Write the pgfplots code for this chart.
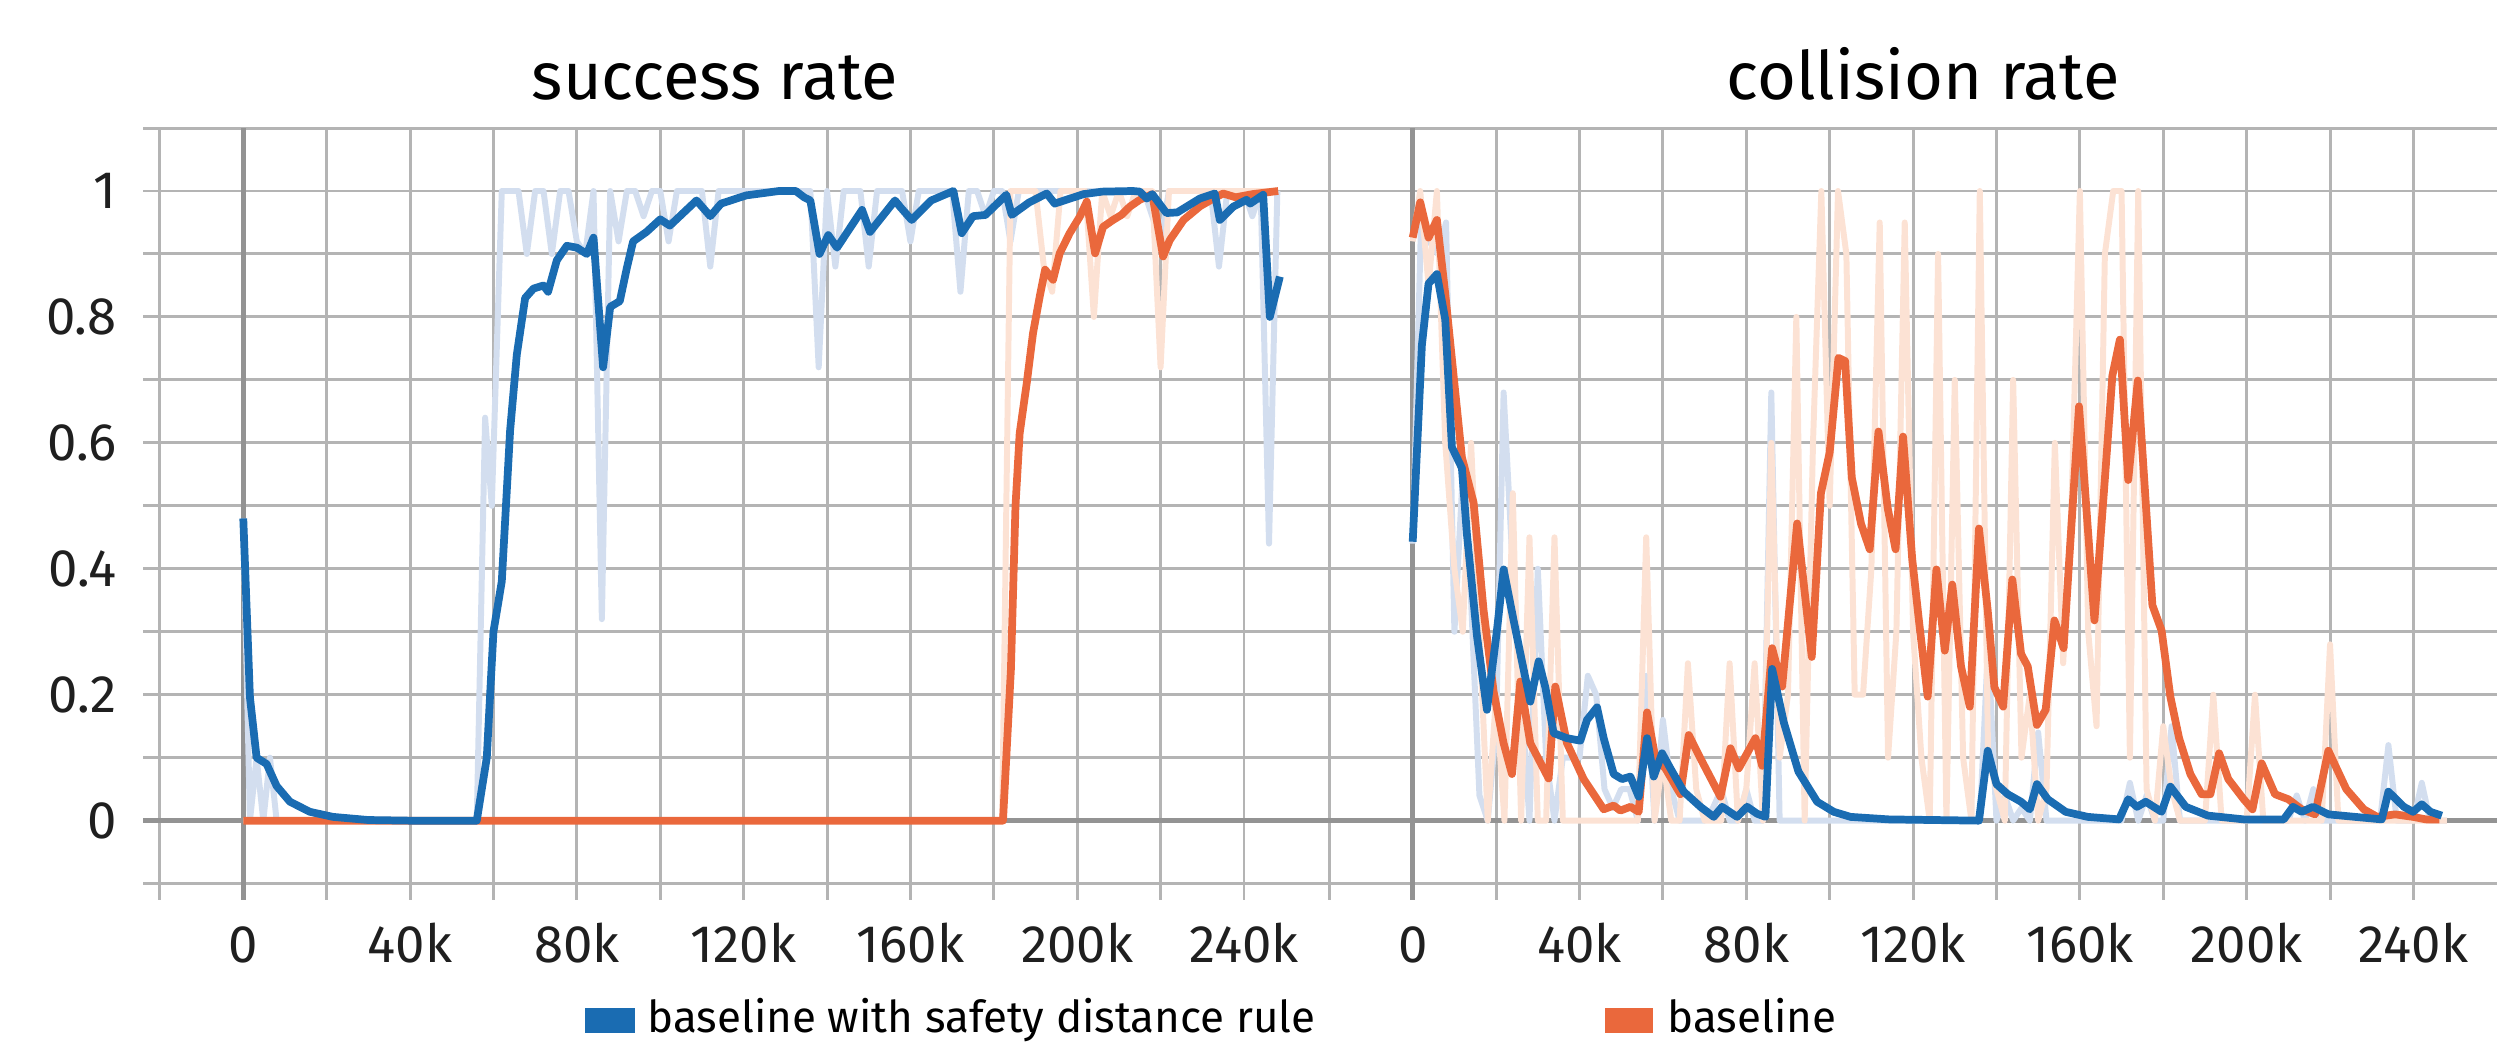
\documentclass[border=0pt]{standalone}
\usepackage{fontspec}
\setmainfont{Fira Sans}
\usepackage{pgfplots}
\pgfplotsset{compat=1.18}
\definecolor{cblue}{HTML}{1A6CB2}
\definecolor{corange}{HTML}{EA683C}
\definecolor{fblue}{HTML}{D3DEEF}
\definecolor{forange}{HTML}{FCE2D4}
\definecolor{gridc}{HTML}{B4B4B4}
\definecolor{zeroc}{HTML}{939393}
\pgfplotsset{
  tbstyle/.style={
    scale only axis, width=11.80cm, height=7.7195cm,
    ymin=-0.126, ymax=1.1,
    xtick={0,40000,80000,120000,160000,200000,240000},
    xticklabels={0,40k,80k,120k,160k,200k,240k},
    minor xtick={-20000,20000,60000,100000,140000,180000,220000},
    ytick={0,0.2,0.4,0.6,0.8,1},
    minor ytick={-0.1,0.1,0.3,0.5,0.7,0.9,1.1},
    grid=both,
    major grid style={draw=gridc, line width=0.85pt},
    minor grid style={draw=gridc, line width=0.85pt},
    axis line style={draw=none},
    major tick length=0pt, minor tick length=0pt,
    tick align=inside,
    scaled ticks=false,
    /pgf/number format/assume math mode=true,
    xticklabel style={font=\fontsize{15}{17}\selectfont, text=black!88, anchor=base, yshift=-0.63cm},
    yticklabel style={font=\fontsize{15}{17}\selectfont, text=black!88, anchor=east, inner sep=0pt, xshift=-0.26cm},
    extra x ticks={0}, extra x tick labels={},
    extra x tick style={major grid style={draw=zeroc, line width=1.3pt}},
    extra y ticks={0}, extra y tick labels={},
    extra y tick style={major grid style={draw=zeroc, line width=1.3pt}},
    every axis plot/.append style={line join=round},
  },
  raw/.style={line width=1.7pt},
  smooth/.style={line width=2.2pt},
}
\begin{document}
\begin{tikzpicture}
\path[use as bounding box] (0,0) rectangle (25,10.48);
% ---------------- success rate ----------------
\begin{axis}[tbstyle, at={(1.432cm,1.48cm)}, anchor=south west,
  xmin=-24000, xmax=259000,
  yticklabels={0,0.2,0.4,0.6,0.8,1}]
% raw blue
\addplot[raw, fblue] coordinates {
(0,0.48)(1600,0)(3200,0.1)(4800,0)(6400,0.1)(8000,0)(56000,0)(58000,0.64)(59600,0.5)(62000,1)(64000,1)(66000,1)(68000,0.9)(70000,1)(72000,1)(74000,0.9)(76000,1)(78000,1)(80000,0.92)(82000,0.9)(84000,1)(86000,0.32)(88000,1)(90000,0.92)(92000,1)(94000,1)(96000,0.96)(98000,1)(100000,1)(102000,0.92)(104000,1)(106000,1)(108000,1)(110000,1)(112000,0.88)(114000,1)(116000,1)(136000,1)(138000,0.72)(140000,1)(142000,0.88)(144000,1)(146000,1)(148000,1)(150000,0.88)(152000,1)(156000,1)(158000,1)(160000,0.92)(162000,1)(170000,1)(172000,0.84)(174000,1)(176000,1)(178000,0.96)(180000,1)(182000,1)(184000,0.92)(186000,1)(216000,1)(218000,0.96)(220000,0.92)(222000,1)(232000,1)(234000,0.88)(236000,1)(240000,1)(242000,0.96)(244000,1)(246000,0.44)(248000,1)
};
% raw orange
\addplot[raw, forange] coordinates {
(0,0)(182000,0)(184000,1)(186000,1)(188000,1)(190000,1)(192000,0.88)(194000,0.84)(196000,1)(198000,1)(200000,1)(202000,1)(204000,0.8)(206000,1)(208000,0.96)(210000,1)(212000,0.96)(214000,1)(216000,1)(218000,1)(220000,0.72)(222000,1)(224000,1)(248000,1)
};
% smoothed orange
\addplot[smooth, corange] coordinates {
(0,0)(182200,0)(184100,0.24)(185200,0.50)(186200,0.615)(187900,0.695)(189400,0.774)(191000,0.832)(192300,0.875)(194200,0.859)(195800,0.901)(198200,0.933)(200600,0.959)(202300,0.983)(204300,0.901)(206200,0.943)(208600,0.954)(210600,0.962)(212600,0.975)(215000,0.986)(218000,0.995)(220600,0.896)(222200,0.922)(225500,0.954)(229500,0.976)(233500,0.991)(235000,0.996)(238000,0.99)(242000,0.995)(248200,1.0)
};
% smoothed blue
\addplot[smooth, cblue] coordinates {
(0,0.48)(1600,0.196)(3200,0.10)(5600,0.09)(8000,0.055)(11200,0.03)(16000,0.014)(21500,0.006)(30000,0.001)(40000,0)(56000,0)(58400,0.10)(60000,0.30)(62000,0.38)(64000,0.62)(65600,0.74)(67600,0.83)(69600,0.845)(72000,0.85)(73100,0.84)(75200,0.89)(77600,0.913)(80000,0.91)(82400,0.90)(84000,0.926)(86300,0.72)(88000,0.816)(90300,0.825)(92000,0.878)(93500,0.92)(96700,0.935)(100000,0.955)(102300,0.945)(105500,0.965)(108700,0.985)(112000,0.96)(114600,0.98)(120600,0.993)(128500,1.0)(132500,1.0)(134500,0.99)(136000,0.985)(138200,0.90)(140300,0.93)(142400,0.91)(148400,0.97)(150300,0.935)(156300,0.985)(157500,0.975)(160300,0.954)(165000,0.985)(170300,1.0)(172300,0.933)(175000,0.96)(178000,0.962)(183000,0.994)(184300,0.962)(188500,0.982)(192700,0.996)(194600,0.98)(201500,0.995)(206000,0.999)(213400,1.0)(215000,0.999)(216700,0.988)(218000,0.995)(221400,0.965)(224000,0.966)(229400,0.988)(233000,0.996)(234200,0.954)(237400,0.975)(240600,0.986)(241500,0.98)(244600,0.994)(246200,0.80)(248600,0.864)
};
\end{axis}
% ---------------- collision rate ----------------
\begin{axis}[tbstyle, at={(13.168cm,1.48cm)}, anchor=south west,
  xmin=-23000, xmax=260000,
  yticklabels={}]
% raw blue
\addplot[raw, fblue] coordinates {
(0,0.44)(2000,0.95)(4000,0.92)(6000,0.9)(8000,0.95)(10000,0.3)(12000,0.55)(14000,0.35)(16000,0.04)(18000,0.0)(20000,0.15)(21800,0.68)(24000,0.4)(26000,0.2)(28000,0.0)(30000,0.4)(32000,0.1)(34000,0.0)(36000,0.1)(38000,0.1)(40000,0.1)(42000,0.23)(44000,0.2)(46000,0.05)(48000,0.02)(50000,0.05)(52000,0.05)(54000,0)(56000,0.23)(58000,0.0)(60000,0.16)(62000,0.05)(64000,0.0)(70000,0.0)(72000,0.02)(74000,0.05)(76000,0.0)(78000,0.0)(80000,0.05)(82000,0)(84000,0)(86000,0.68)(88000,0)(136000,0)(138000,0.28)(140000,0)(142000,0.04)(144000,0)(146000,0.02)(148000,0)(150000,0.14)(152000,0)(170000,0)(172000,0.06)(174000,0)(176000,0.04)(178000,0)(180000,0)(182000,0.15)(184000,0)(210000,0)(212000,0.04)(214000,0)(216000,0.05)(218000,0)(232000,0)(234000,0.12)(236000,0)(240000,0)(242000,0.06)(244000,0)(248000,0)
};
% raw orange
\addplot[raw, forange] coordinates {
(0,0.92)(1800,1.0)(3800,0.85)(5800,1.0)(7800,0.6)(10000,0.4)(12000,0.3)(14000,0.6)(16000,0.3)(18000,0)(20000,0.2)(22000,0)(24000,0.52)(26000,0.0)(28000,0.45)(30000,0.0)(32000,0.0)(34000,0.45)(36000,0)(54000,0)(56000,0.45)(58000,0.0)(60000,0.1)(62000,0)(64000,0)(66000,0.25)(68000,0.05)(70000,0)(74000,0)(76000,0.25)(78000,0)(80000,0.05)(82000,0.25)(84000,0)(86000,0.6)(88000,0.1)(90000,0.2)(92000,0.8)(94000,0.0)(96000,0.6)(98000,1.0)(100000,0.5)(102000,1.0)(104000,0.9)(106000,0.2)(108000,0.2)(110000,0.4)(112000,0.95)(114000,0.1)(116000,0.3)(118000,0.95)(120000,0.3)(122000,0.1)(124000,0)(126000,0.9)(128000,0.0)(130000,0.7)(132000,0.1)(134000,0.0)(136000,1.0)(138000,0.1)(140000,0.05)(142000,0.0)(144000,0.7)(146000,0.1)(148000,0.2)(150000,0.0)(152000,0.05)(154000,0.6)(156000,0.25)(158000,0.5)(160000,1.0)(162000,0.3)(164000,0.15)(166000,0.9)(168000,1.0)(170000,1.0)(172000,0.1)(174000,1.0)(176000,0.05)(178000,0.0)(180000,0.15)(182000,0.05)(184000,0)(190000,0)(192000,0.2)(194000,0.0)(200000,0)(202000,0.2)(204000,0)(218000,0)(220000,0.28)(222000,0)(248000,0)
};
% smoothed orange
\addplot[smooth, corange] coordinates {
(0,0.926)(1800,0.982)(3800,0.926)(5800,0.954)(7800,0.837)(9800,0.707)(11800,0.577)(14600,0.505)(17000,0.334)(19400,0.205)(21800,0.123)(23800,0.074)(25800,0.221)(28200,0.123)(32600,0.067)(34200,0.213)(37000,0.123)(41000,0.066)(45800,0.018)(48200,0.024)(49800,0.016)(52200,0.022)(54200,0.014)(56200,0.172)(58200,0.099)(60600,0.083)(64200,0.042)(66200,0.136)(69000,0.099)(73800,0.038)(76200,0.115)(78200,0.083)(82200,0.131)(83800,0.087)(86200,0.274)(88600,0.213)(92200,0.472)(95700,0.26)(97900,0.52)(100000,0.585)(102100,0.735)(103700,0.73)(105300,0.545)(107500,0.472)(109600,0.431)(111700,0.618)(113900,0.497)(115800,0.431)(117600,0.61)(119800,0.415)(121400,0.318)(123500,0.197)(125600,0.399)(127600,0.27)(129400,0.375)(131500,0.245)(133600,0.181)(135800,0.464)(137900,0.334)(139500,0.212)(141600,0.181)(143800,0.383)(145900,0.265)(147500,0.245)(149700,0.152)(151800,0.176)(153900,0.318)(156100,0.274)(159800,0.658)(163500,0.318)(166200,0.561)(167800,0.707)(169600,0.764)(171600,0.541)(173900,0.699)(177400,0.342)(179600,0.302)(181700,0.197)(183800,0.131)(186500,0.074)(189200,0.042)(191300,0.042)(193400,0.107)(195600,0.066)(199300,0.034)(201400,0.018)(203600,0.091)(206800,0.042)(210000,0.034)(213200,0.018)(216400,0.01)(219600,0.111)(223900,0.05)(228100,0.018)(231300,0.006)(235600,0.01)(239900,0.006)(243000,0.002)(246200,0.002)
};
% smoothed blue
\addplot[smooth, cblue] coordinates {
(0,0.443)(2200,0.755)(3800,0.853)(5800,0.868)(7800,0.796)(9400,0.593)(11800,0.56)(13000,0.455)(15400,0.294)(17800,0.176)(20200,0.302)(21800,0.399)(24200,0.318)(26200,0.253)(28200,0.189)(30200,0.253)(31800,0.212)(33800,0.139)(37000,0.131)(40200,0.127)(41800,0.16)(44200,0.18)(45800,0.131)(48200,0.074)(50200,0.066)(52200,0.07)(54200,0.038)(56200,0.131)(57800,0.07)(59800,0.107)(61800,0.083)(65000,0.046)(69000,0.022)(72200,0.006)(74200,0.022)(77800,0.006)(80200,0.022)(82600,0.011)(84600,0.006)(86200,0.241)(89000,0.156)(92500,0.078)(97000,0.03)(101000,0.014)(105000,0.006)(114200,0.002)(135800,0)(137900,0.111)(140000,0.058)(142700,0.042)(145900,0.03)(148000,0.018)(149700,0.058)(152300,0.034)(156600,0.014)(161900,0.006)(169400,0.002)(171600,0.034)(173700,0.022)(175800,0.03)(179600,0.014)(181700,0.054)(185400,0.022)(190700,0.008)(199300,0.002)(208900,0.002)(211100,0.022)(213200,0.014)(215900,0.022)(219600,0.01)(226000,0.006)(232400,0.002)(234000,0.046)(237700,0.022)(239900,0.014)(242000,0.026)(244100,0.014)(246800,0.008)
};
\end{axis}
% titles
\node[anchor=base, font=\fontsize{19}{22}\selectfont] at (7.15,9.48) {success rate};
\node[anchor=base, font=\fontsize{19}{22}\selectfont] at (19.23,9.48) {collision rate};
% legend
\fill[cblue] (5.85,0.15) rectangle (6.35,0.40);
\node[anchor=base west, inner sep=0pt, font=\fontsize{12.5}{14}\selectfont] at (6.47,0.15) {baseline with safety distance rule};
\fill[corange] (16.05,0.15) rectangle (16.53,0.40);
\node[anchor=base west, inner sep=0pt, font=\fontsize{12.5}{14}\selectfont] at (16.67,0.15) {baseline};
\end{tikzpicture}
\end{document}
